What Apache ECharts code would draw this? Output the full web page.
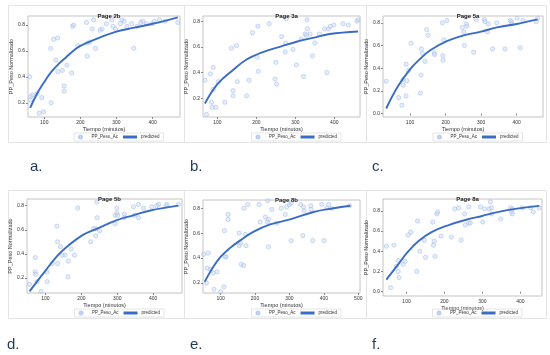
<!DOCTYPE html>
<html><head><meta charset="utf-8">
<script src="https://cdn.jsdelivr.net/npm/echarts@6/dist/echarts.min.js"></script>
<style>html,body{margin:0;padding:0;background:#fff}#c{width:550px;height:355px}</style>
</head><body><div id="c"></div>
<script>
// ---------- data ----------
const pageTitles = ['Page 2b','Page 3a','Page 5a','Page 5b','Page 8b','Page 8a'];
const panelLabels = ['a.','b.','c.','d.','e.','f.'];
const xTitle = 'Tiempo (minutos)';
const yTitle = 'PP_Peso Normalizado';
const seriesNames = ['PP_Peso_Ac','predicted'];

const xTicks4 = [100,200,300,400];
const xTicks5 = [100,200,300,400,500];
const yTicks4 = [0.2,0.4,0.6,0.8];
const yTicks5 = [0.0,0.2,0.4,0.6,0.8];

const pointsA = [[60,0.40],[63,0.25],[68,0.26],[62,0.22],[80,0.27],[93,0.24],[86,0.12],[98,0.13],[118,0.62],[126,0.69],[137,0.70],[132,0.53],[119,0.20],[138,0.44],[150,0.45],[155,0.33],[155,0.29],[163,0.49],[176,0.43],[178,0.79],[181,0.80],[193,0.64],[217,0.82],[219,0.56],[220,0.66],[226,0.67],[237,0.84],[233,0.77],[242,0.62],[255,0.76],[260,0.77],[272,0.81],[287,0.84],[290,0.79],[297,0.77],[311,0.81],[315,0.84],[321,0.83],[329,0.79],[342,0.81],[348,0.62],[357,0.79],[367,0.82],[373,0.83],[383,0.81],[398,0.81],[405,0.83],[419,0.84],[435,0.83],[470,0.82]];
const curveA = [[61,0.16],[80,0.27],[100,0.36],[120,0.44],[140,0.50],[160,0.55],[180,0.60],[200,0.64],[250,0.70],[300,0.75],[350,0.78],[400,0.81],[470,0.86]];

const pointsB = [[68,0.34],[72,0.075],[82,0.39],[85,0.17],[89,0.44],[87,0.13],[89,0.27],[96,0.13],[102,0.33],[119,0.17],[136,0.59],[140,0.26],[140,0.22],[149,0.61],[151,0.33],[175,0.22],[181,0.34],[190,0.71],[202,0.52],[204,0.76],[205,0.41],[233,0.78],[248,0.35],[250,0.48],[252,0.31],[265,0.68],[274,0.56],[275,0.63],[277,0.82],[294,0.58],[303,0.46],[315,0.66],[321,0.37],[325,0.70],[328,0.69],[330,0.81],[331,0.74],[338,0.70],[344,0.53],[350,0.63],[362,0.70],[375,0.74],[381,0.40],[385,0.74],[390,0.76],[399,0.77],[422,0.78],[436,0.77],[458,0.80],[461,0.81]];
const curveB = [[68,0.16],[100,0.31],[140,0.42],[174,0.50],[217,0.56],[260,0.60],[303,0.64],[345,0.67],[388,0.70],[461,0.72]];

const pointsC = [[33,0.285],[68,0.14],[77,0.075],[80,0.30],[81,0.25],[89,0.155],[89,0.435],[91,0.29],[96,0.38],[103,0.62],[129,0.18],[131,0.34],[132,0.57],[135,0.53],[142,0.46],[147,0.74],[151,0.69],[168,0.535],[169,0.52],[191,0.80],[192,0.51],[193,0.47],[195,0.65],[204,0.82],[247,0.76],[251,0.72],[253,0.60],[256,0.85],[258,0.79],[260,0.77],[279,0.54],[286,0.83],[309,0.83],[311,0.81],[318,0.72],[320,0.79],[332,0.57],[344,0.80],[367,0.57],[382,0.82],[385,0.81],[386,0.79],[401,0.84],[410,0.58],[418,0.82],[455,0.81],[459,0.84]];
const curveC = [[33,0.045],[66,0.24],[100,0.39],[131,0.49],[158,0.56],[205,0.64],[251,0.69],[297,0.72],[344,0.76],[400,0.79],[459,0.83]];

const pointsD = [[56,0.148],[72,0.37],[72,0.25],[73,0.23],[77,0.17],[88,0.09],[105,0.25],[105,0.17],[119,0.32],[132,0.63],[134,0.50],[134,0.32],[142,0.46],[147,0.39],[155,0.39],[163,0.21],[164,0.34],[172,0.44],[181,0.39],[190,0.78],[226,0.50],[234,0.61],[240,0.61],[240,0.55],[243,0.83],[244,0.70],[251,0.59],[294,0.65],[294,0.72],[299,0.74],[299,0.78],[301,0.72],[319,0.70],[320,0.73],[345,0.79],[348,0.72],[359,0.81],[359,0.70],[373,0.78],[396,0.79],[410,0.80],[415,0.81],[436,0.80],[438,0.81],[470,0.81]];
const curveD = [[56,0.09],[100,0.26],[132,0.38],[160,0.46],[206,0.56],[244,0.61],[299,0.68],[345,0.72],[392,0.76],[470,0.80]];

const pointsE = [[51,0.43],[59,0.20],[61,0.32],[64,0.44],[70,0.31],[79,0.28],[81,0.15],[90,0.29],[100,0.13],[110,0.17],[111,0.62],[113,0.41],[116,0.41],[122,0.75],[122,0.71],[154,0.60],[154,0.50],[158,0.52],[160,0.35],[167,0.34],[168,0.80],[172,0.59],[174,0.50],[179,0.83],[212,0.83],[215,0.69],[230,0.73],[236,0.69],[237,0.86],[239,0.71],[239,0.49],[249,0.79],[263,0.68],[276,0.80],[288,0.75],[292,0.81],[300,0.83],[305,0.84],[305,0.54],[333,0.83],[339,0.58],[341,0.81],[343,0.78],[362,0.82],[363,0.79],[368,0.54],[394,0.83],[401,0.54],[409,0.80],[414,0.83],[423,0.80],[475,0.82]];
const curveE = [[54,0.21],[79,0.33],[100,0.41],[127,0.48],[156,0.54],[195,0.61],[244,0.67],[302,0.71],[370,0.77],[428,0.80],[477,0.82]];

const pointsF = [[47,0.45],[58,0.04],[67,0.46],[73,0.25],[78,0.31],[78,0.20],[80,0.14],[91,0.27],[96,0.30],[104,0.56],[111,0.59],[127,0.20],[129,0.70],[135,0.40],[147,0.51],[150,0.34],[169,0.69],[171,0.46],[173,0.50],[175,0.35],[180,0.77],[182,0.79],[191,0.55],[218,0.54],[227,0.82],[237,0.83],[244,0.51],[253,0.77],[255,0.66],[264,0.84],[264,0.68],[268,0.68],[295,0.84],[301,0.69],[306,0.82],[318,0.82],[321,0.89],[324,0.83],[324,0.77],[348,0.72],[374,0.83],[377,0.79],[379,0.82],[379,0.77],[405,0.83],[427,0.83],[434,0.79],[450,0.83]];
const curveF = [[47,0.12],[78,0.27],[100,0.38],[131,0.50],[166,0.59],[211,0.66],[255,0.71],[299,0.75],[343,0.79],[387,0.82],[450,0.85]];

const allPoints = [pointsA,pointsB,pointsC,pointsD,pointsE,pointsF];
const allCurves = [curveA,curveB,curveC,curveD,curveE,curveF];
const allXTicks = [xTicks4,xTicks4,xTicks4,xTicks4,xTicks5,xTicks4];
const allYTicks = [yTicks4,yTicks4,yTicks5,yTicks4,yTicks4,yTicks5];
const xRanges = [[55,476],[63,466],[24,474],[49,480],[49,505],[38,457]];
const yRanges = [[0.09,0.87],[0.055,0.84],[-0.03,0.86],[0.076,0.855],[0.12,0.866],[-0.043,0.918]];

// ---------- layout ----------
const panels = [[8,5,176,137],[184,5,182,137],[366,5,180,137],[8,190,176,128],[184,190,182,128],[366,190,180,128]];
const grids = [[28,16,152,101],[203,16,157,101],[383,16,160,101],[27,199,155,94],[203,200,157,93],[383,199,159,97]];
const labelPos = [[30,167],[190,167],[372,167],[7,345],[190,345],[372,345]];

const FONT = '"Liberation Sans", Arial, sans-serif';
const option = {
  backgroundColor:'#fff', animation:false,
  textStyle:{fontFamily:FONT},
  grid:[], xAxis:[], yAxis:[], series:[], title:[], legend:[], graphic:[]
};
for (let i=0;i<6;i++){
  const g = grids[i], p = panels[i];
  option.grid.push({left:g[0],top:g[1],width:g[2],height:g[3],show:true,borderColor:'#c4c4c4',borderWidth:1,backgroundColor:'transparent',containLabel:false});
  option.xAxis.push({type:'value',gridIndex:i,min:xRanges[i][0],max:xRanges[i][1],
    name:xTitle,nameLocation:'middle',nameGap:9,nameTextStyle:{fontSize:5.5,color:'#333',fontFamily:FONT},
    axisLine:{show:false},splitLine:{show:false},
    axisTick:{show:true,length:2,lineStyle:{color:'#888'},customValues:allXTicks[i]},
    axisLabel:{fontSize:5,color:'#333',margin:3,customValues:allXTicks[i],fontFamily:FONT}});
  option.yAxis.push({type:'value',gridIndex:i,min:yRanges[i][0],max:yRanges[i][1],
    name:yTitle,nameLocation:'middle',nameGap:12,nameTextStyle:{fontSize:5.5,color:'#333',fontFamily:FONT},
    axisLine:{show:false},splitLine:{show:false},
    axisTick:{show:true,length:2,lineStyle:{color:'#888'},customValues:allYTicks[i]},
    axisLabel:{fontSize:5,color:'#333',margin:3,customValues:allYTicks[i],formatter:v=>v.toFixed(1),fontFamily:FONT}});
  option.series.push({type:'scatter',name:seriesNames[0],xAxisIndex:i,yAxisIndex:i,data:allPoints[i],
    symbol:'circle',symbolSize:4.2,itemStyle:{color:'rgba(195,212,242,0.5)',borderColor:'#adc3ea',borderWidth:0.8},z:2});
  option.series.push({type:'line',name:seriesNames[1],xAxisIndex:i,yAxisIndex:i,data:allCurves[i],
    smooth:0.4,symbol:'none',showSymbol:false,lineStyle:{color:'#3a6cc6',width:1.9},itemStyle:{color:'#3a6cc6'},z:3});
  option.title.push({text:pageTitles[i],left:g[0]+g[2]/2,top:g[1]-8,textAlign:'center',
    textStyle:{fontSize:6,fontWeight:'bold',color:'#222',fontFamily:FONT}});
  const legTop = i<3 ? 133 : 309;
  option.legend.push({left:g[0]+g[2]/2-30,top:legTop,orient:'horizontal',itemGap:5,itemWidth:14,itemHeight:3,
    padding:[1.5,4],borderColor:'#d4d4d4',borderWidth:0.6,
    textStyle:{fontSize:4.5,color:'#333',fontFamily:FONT,padding:[0,0,0,-1]},
    data:[{name:seriesNames[0],icon:'circle'},{name:seriesNames[1],icon:'rect'}]});
  option.graphic.push({type:'rect',shape:{x:p[0]+0.5,y:p[1]+0.5,width:p[2],height:p[3]},
    style:{fill:'none',stroke:'#e4e4e4',lineWidth:1},silent:true,z:-1});
  option.graphic.push({type:'text',left:labelPos[i][0],top:labelPos[i][1]-8,
    style:{text:panelLabels[i],font:'15px '+FONT,fill:'#1f3b5c'}});
}
const chart = echarts.init(document.getElementById('c'),null,{renderer:'canvas'});
chart.setOption(option);
</script></body></html>
